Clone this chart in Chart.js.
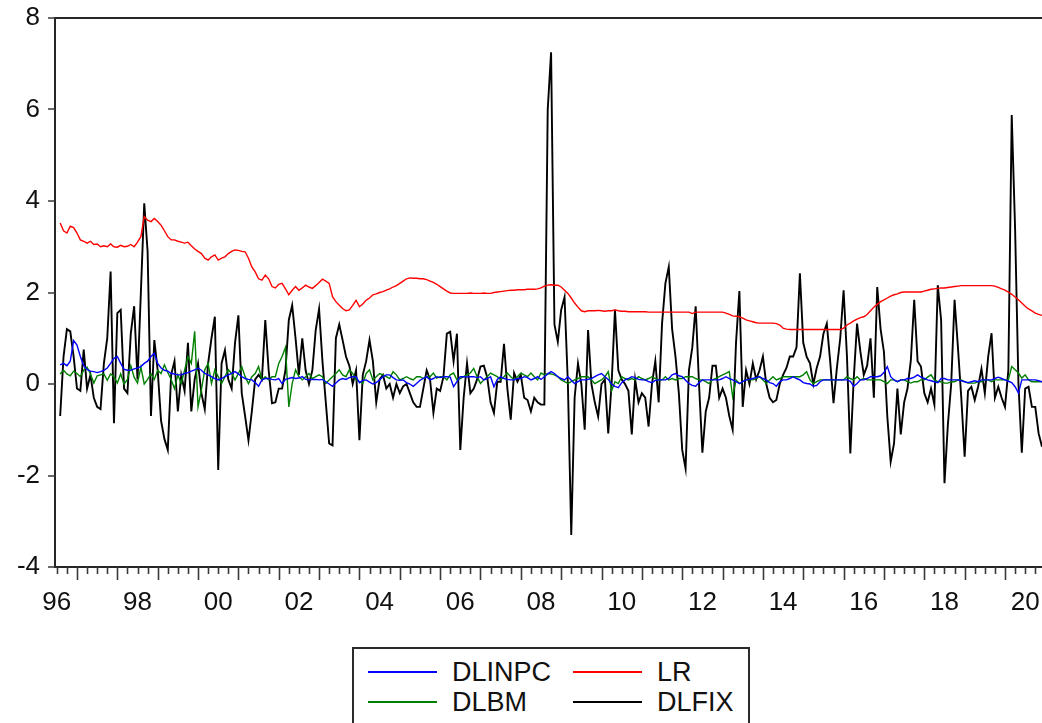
<!DOCTYPE html>
<html>
<head>
<meta charset="utf-8">
<title>DLINPC, LR, DLBM, DLFIX</title>
<script src="https://cdn.jsdelivr.net/npm/chart.js@4.4.0/dist/chart.umd.min.js"></script>
<style>
    html, body { margin: 0; padding: 0; background: #fff; overflow: hidden; }
    #wrap { position: relative; width: 1042px; height: 723px; overflow: hidden; }
    #chart { position: absolute; left: 0; top: 0; }
    #legend {
        position: absolute; left: 352px; top: 647px; width: 398px; height: 90px;
        box-sizing: border-box; border: 2px solid #2b2b2b; background: #fff;
        font-family: 'Liberation Sans', Arial, sans-serif; font-size: 27px; color: #111;
    }
    .item { position: absolute; height: 30px; line-height: 30px; width: 190px; }
    .item .swatch { position: absolute; left: 0; top: 14px; width: 69px; height: 2px; }
    .item .name { position: absolute; left: 84px; top: 0; white-space: nowrap; }
</style>
</head>
<body>
<div id="wrap">
    <canvas id="chart" width="1042" height="723"></canvas>
    <div id="legend"></div>
</div>
<script>
// monthly observations, first one is 1996M8, last one 2020M12
const firstYear = 1996;
const firstMonth = 8;

const dlinpc = [
    0.42, 0.45, 0.40, 0.50, 0.95, 0.85, 0.60, 0.40, 0.32, 0.28, 0.27, 0.25,
    0.27, 0.30, 0.35, 0.45, 0.56, 0.60, 0.45, 0.32, 0.30, 0.30, 0.33, 0.35,
    0.38, 0.45, 0.50, 0.60, 0.67, 0.45, 0.35, 0.30, 0.28, 0.23, 0.22, 0.20,
    0.20, 0.23, 0.25, 0.28, 0.31, 0.35, 0.30, 0.23, 0.20, 0.16, 0.12, 0.09,
    0.12, 0.16, 0.20, 0.23, 0.27, 0.22, 0.16, 0.12, 0.10, 0.09, 0.03, -0.05,
    0.09, 0.12, 0.12, 0.10, 0.09, 0.12, 0.01, 0.10, 0.12, 0.14, 0.12, 0.13,
    0.16, 0.10, 0.09, 0.10, 0.10, 0.09, 0.10, 0.05, 0.00, -0.05, 0.02, 0.09,
    0.12, 0.10, 0.14, 0.16, 0.16, 0.03, 0.08, 0.09, 0.04, 0.00, 0.03, 0.09,
    0.16, 0.20, 0.20, 0.14, 0.09, 0.08, 0.09, 0.03, 0.00, -0.05, 0.01, 0.08,
    0.12, 0.16, 0.09, 0.12, 0.16, 0.14, 0.16, 0.16, 0.15, -0.06, 0.05, 0.16,
    0.16, 0.15, 0.16, 0.16, 0.14, 0.16, 0.09, 0.12, 0.16, -0.06, 0.10, 0.16,
    0.12, 0.10, 0.09, 0.09, 0.12, 0.12, 0.16, 0.14, 0.09, 0.12, 0.16, 0.10,
    0.16, 0.22, 0.27, 0.23, 0.16, 0.12, 0.09, 0.16, 0.08, 0.01, 0.05, 0.09,
    0.09, 0.10, 0.12, 0.16, 0.20, 0.23, 0.16, 0.10, 0.00, -0.05, -0.08, 0.03,
    0.09, 0.12, 0.16, 0.14, 0.10, 0.09, 0.09, 0.05, 0.03, 0.08, 0.09, 0.09,
    0.09, 0.12, 0.20, 0.23, 0.18, 0.16, 0.08, 0.01, -0.03, -0.05, 0.03, 0.09,
    0.09, 0.09, 0.09, 0.09, 0.09, 0.12, 0.16, 0.12, 0.09, 0.05, 0.01, 0.05,
    0.09, 0.10, 0.12, 0.14, 0.16, 0.12, 0.09, 0.03, 0.01, -0.05, 0.05, 0.09,
    0.09, 0.12, 0.16, 0.12, 0.09, 0.03, 0.01, 0.00, -0.05, -0.03, 0.05, 0.09,
    0.09, 0.09, 0.09, 0.09, 0.09, 0.09, 0.09, 0.06, -0.05, 0.01, 0.09, 0.09,
    0.12, 0.16, 0.16, 0.16, 0.18, 0.25, 0.38, 0.16, 0.09, 0.05, 0.09, 0.09,
    0.12, 0.12, 0.15, 0.20, 0.15, 0.12, 0.09, 0.07, 0.05, 0.03, 0.12, 0.12,
    0.09, 0.09, 0.09, 0.09, 0.07, 0.05, 0.03, 0.05, 0.07, 0.05, 0.09, 0.09,
    0.09, 0.09, 0.12, 0.15, 0.12, 0.09, 0.06, 0.03, -0.06, -0.20, 0.09, 0.09,
    0.09, 0.09, 0.09, 0.07, 0.05
];

const lr = [
    3.52, 3.35, 3.30, 3.45, 3.42, 3.30, 3.15, 3.12, 3.08, 3.12, 3.05, 3.06,
    3.00, 3.02, 3.00, 3.06, 3.00, 2.99, 3.03, 3.00, 3.01, 3.05, 3.00, 3.10,
    3.22, 3.66, 3.58, 3.55, 3.62, 3.55, 3.47, 3.35, 3.22, 3.15, 3.15, 3.12,
    3.10, 3.08, 3.10, 3.02, 2.95, 2.90, 2.85, 2.75, 2.71, 2.78, 2.82, 2.71,
    2.75, 2.78, 2.85, 2.90, 2.93, 2.92, 2.90, 2.89, 2.75, 2.56, 2.45, 2.30,
    2.27, 2.38, 2.30, 2.13, 2.10, 2.18, 2.20, 2.08, 1.95, 2.05, 2.13, 2.05,
    2.10, 2.16, 2.12, 2.09, 2.15, 2.22, 2.29, 2.25, 2.20, 1.91, 1.80, 1.72,
    1.65, 1.60, 1.62, 1.72, 1.83, 1.69, 1.75, 1.83, 1.88, 1.95, 1.97, 2.00,
    2.02, 2.05, 2.08, 2.12, 2.15, 2.20, 2.25, 2.30, 2.32, 2.31, 2.31, 2.30,
    2.30, 2.28, 2.25, 2.22, 2.18, 2.13, 2.08, 2.03, 1.99, 1.98, 1.98, 1.98,
    1.98, 1.98, 1.99, 1.98, 1.98, 1.98, 1.99, 1.98, 1.98, 2.00, 2.01, 2.02,
    2.03, 2.04, 2.05, 2.05, 2.06, 2.06, 2.06, 2.07, 2.07, 2.07, 2.08, 2.10,
    2.14, 2.16, 2.17, 2.16, 2.16, 2.12, 2.05, 1.98, 1.88, 1.77, 1.68, 1.60,
    1.58, 1.60, 1.60, 1.60, 1.61, 1.60, 1.59, 1.60, 1.60, 1.62, 1.60, 1.59,
    1.59, 1.58, 1.58, 1.58, 1.58, 1.58, 1.58, 1.57, 1.57, 1.57, 1.57, 1.57,
    1.57, 1.57, 1.57, 1.57, 1.57, 1.57, 1.57, 1.57, 1.54, 1.57, 1.57, 1.57,
    1.57, 1.57, 1.57, 1.57, 1.57, 1.57, 1.55, 1.52, 1.49, 1.48, 1.47, 1.44,
    1.40, 1.38, 1.36, 1.34, 1.33, 1.33, 1.33, 1.33, 1.33, 1.32, 1.29, 1.22,
    1.20, 1.19, 1.19, 1.19, 1.19, 1.19, 1.19, 1.19, 1.19, 1.19, 1.19, 1.19,
    1.19, 1.19, 1.19, 1.19, 1.19, 1.22, 1.29, 1.33, 1.38, 1.42, 1.45, 1.47,
    1.52, 1.60, 1.68, 1.74, 1.80, 1.84, 1.88, 1.92, 1.95, 1.97, 2.00, 2.01,
    2.01, 2.01, 2.01, 2.01, 2.01, 2.03, 2.05, 2.07, 2.08, 2.09, 2.10, 2.10,
    2.11, 2.12, 2.13, 2.14, 2.15, 2.15, 2.15, 2.15, 2.15, 2.15, 2.15, 2.15,
    2.15, 2.15, 2.14, 2.11, 2.08, 2.05, 2.01, 1.96, 1.90, 1.84, 1.77, 1.70,
    1.64, 1.60, 1.55, 1.52, 1.50
];

const dlbm = [
    0.22, 0.30, 0.22, 0.18, 0.28, 0.23, 0.16, 0.30, 0.37, 0.22, 0.02, 0.18,
    0.20, 0.22, 0.08, 0.22, 0.16, 0.02, 0.22, 0.00, 0.10, 0.40, 0.15, 0.02,
    0.37, 0.00, 0.10, 0.22, 0.10, 0.30, 0.23, 0.42, 0.25, 0.10, -0.10, 0.20,
    0.01, 0.30, 0.60, 0.45, 1.15, -0.50, -0.13, 0.31, 0.45, 0.01, 0.31, 0.16,
    0.01, 0.16, 0.31, 0.23, 0.09, 0.23, 0.38, 0.16, 0.01, 0.16, 0.23, 0.38,
    0.09, 0.16, 0.09, 0.16, 0.16, 0.45, 0.60, 0.80, -0.50, 0.01, 0.31, 0.16,
    0.09, 0.16, 0.23, 0.12, 0.16, 0.20, 0.16, 0.01, 0.09, 0.16, 0.23, 0.31,
    0.20, 0.16, 0.31, 0.23, 0.09, 0.05, 0.01, 0.23, 0.31, 0.09, 0.16, 0.23,
    0.20, 0.16, 0.12, 0.27, 0.20, 0.09, 0.12, 0.16, 0.12, 0.09, 0.16, 0.16,
    0.12, 0.16, 0.16, 0.24, 0.13, 0.16, 0.16, 0.09, 0.20, 0.24, 0.09, 0.12,
    0.16, 0.20, 0.24, 0.34, 0.16, 0.01, 0.09, 0.16, 0.24, 0.20, 0.16, 0.09,
    0.16, 0.24, 0.16, 0.09, 0.16, 0.24, 0.20, 0.16, 0.24, 0.16, 0.09, 0.24,
    0.20, 0.23, 0.22, 0.20, 0.16, 0.09, 0.05, 0.01, 0.05, 0.09, 0.12, 0.16,
    0.16, 0.16, 0.09, 0.01, 0.05, 0.09, 0.16, 0.27, -0.15, 0.05, 0.01, 0.16,
    0.12, 0.09, 0.12, 0.09, 0.16, 0.12, 0.09, 0.12, 0.16, 0.12, 0.09, 0.09,
    0.16, 0.09, 0.12, 0.09, 0.12, 0.12, 0.16, 0.16, 0.16, 0.12, 0.09, 0.09,
    0.05, 0.01, 0.09, 0.12, 0.16, 0.20, 0.23, 0.27, -0.28, 0.09, 0.01, 0.05,
    0.09, 0.09, 0.09, 0.12, 0.16, 0.09, 0.01, 0.09, 0.16, 0.09, 0.12, 0.16,
    0.16, 0.16, 0.16, 0.16, 0.16, 0.20, 0.27, 0.09, 0.01, 0.05, 0.09, 0.09,
    0.09, 0.09, 0.09, 0.09, 0.09, 0.09, 0.16, 0.12, 0.09, 0.16, 0.09, 0.12,
    0.09, 0.09, 0.09, 0.09, 0.09, 0.05, 0.01, 0.09, 0.09, 0.05, 0.09, 0.09,
    0.05, 0.02, 0.05, 0.05, 0.09, 0.09, 0.15, 0.20, 0.09, 0.05, 0.05, 0.02,
    0.02, 0.05, 0.05, 0.09, 0.09, 0.05, 0.02, 0.02, 0.02, 0.05, 0.05, 0.09,
    0.09, 0.05, 0.09, 0.09, 0.09, 0.09, 0.09, 0.38, 0.31, 0.24, 0.13, 0.20,
    0.09, 0.05, 0.05, 0.05, 0.05
];

const dlfix = [
    -0.70, 0.60, 1.20, 1.15, 0.60, -0.10, -0.15, 0.75, -0.10, 0.20, -0.30, -0.50,
    -0.55, 0.45, 1.00, 2.46, -0.86, 1.55, 1.62, -0.10, -0.20, 1.10, 1.70, 0.10,
    2.00, 3.95, 2.90, -0.70, 0.96, 0.30, -0.80, -1.20, -1.44, 0.20, 0.50, -0.60,
    0.20, -0.15, 0.90, -0.60, 0.10, 0.45, -0.20, -0.55, 0.45, 1.00, 1.47, -1.88,
    0.45, 0.74, 0.10, -0.10, 0.90, 1.50, -0.20, -0.70, -1.23, -0.60, 0.10, 0.20,
    0.10, 1.40, 0.30, -0.42, -0.40, -0.10, -0.10, 0.30, 1.40, 1.72, 1.00, 0.20,
    1.00, 0.30, 0.00, 0.30, 1.18, 1.64, 0.50, -0.40, -1.30, -1.34, 1.00, 1.30,
    0.96, 0.60, 0.40, 0.00, 0.30, -1.23, 0.20, 0.50, 0.96, 0.50, -0.40, 0.10,
    0.20, -0.10, 0.00, -0.30, 0.00, -0.20, -0.05, 0.00, -0.20, -0.40, -0.50, -0.50,
    -0.10, 0.30, 0.10, -0.63, -0.10, -0.15, 0.16, 1.10, 1.14, 0.50, 1.10, -1.44,
    -0.30, 0.45, -0.20, -0.10, 0.10, 0.38, 0.40, 0.15, -0.40, -0.63, 0.05, 0.05,
    0.88, -0.10, -0.78, 0.24, 0.05, 0.20, -0.30, -0.35, -0.60, -0.30, -0.40, -0.45,
    -0.45, 6.00, 7.25, 1.30, 0.92, 1.62, 1.90, 0.00, -3.30, -0.30, 0.45, 0.00,
    -1.00, 1.18, 0.00, -0.40, -0.71, 0.00, 0.10, -1.08, 0.00, 1.62, 0.30, 0.10,
    0.00, -0.15, -1.10, 0.10, -0.40, -0.20, -0.30, -0.93, 0.00, 0.50, -0.40, 1.32,
    2.20, 2.56, 1.20, 0.60, -0.20, -1.44, -1.85, 0.30, 0.80, 1.70, 0.00, -1.50,
    -0.60, -0.30, 0.40, 0.40, -0.30, -0.10, -0.30, -0.70, -1.00, 0.90, 2.03, -0.50,
    0.30, 0.00, 0.45, 0.10, 0.30, 0.60, 0.00, -0.30, -0.40, -0.35, 0.00, 0.20,
    0.35, 0.60, 0.60, 0.80, 2.42, 0.90, 0.60, 0.45, 0.00, 0.35, 0.60, 1.10,
    1.32, 0.50, -0.42, 0.35, 1.00, 2.05, 0.60, -1.52, 0.10, 1.32, 0.70, 0.20,
    0.40, 1.00, -0.30, 2.12, 1.20, 0.70, -0.71, -1.70, -1.30, -0.10, -1.10, -0.40,
    -0.10, 0.52, 1.84, 0.50, 0.38, -0.20, -0.40, -0.10, -0.45, 2.16, 1.40, -2.17,
    -0.90, 0.00, 1.84, 0.80, -0.30, -1.59, -0.15, -0.06, -0.35, -0.06, 0.33, -0.20,
    0.60, 1.11, -0.30, -0.06, -0.30, -0.50, 0.30, 5.88, 3.40, 0.00, -1.50, -0.10,
    -0.06, -0.50, -0.50, -1.08, -1.37
];

// axis ticks
const yTicks = [-4, -2, 0, 2, 4, 6, 8];
const xLabelYears = [1996, 1998, 2000, 2002, 2004, 2006, 2008, 2010, 2012, 2014, 2016, 2018, 2020];

const series = [
    { label: 'DLINPC', values: dlinpc, color: '#0000ff' },
    { label: 'LR', values: lr, color: '#ff0000' },
    { label: 'DLBM', values: dlbm, color: '#008000' },
    { label: 'DLFIX', values: dlfix, color: '#000000' }
];

function toPoints(values) {
    return values.map((v, i) => ({ x: firstYear + (firstMonth - 1 + i) / 12, y: v }));
}

const tickFont = { family: "'Liberation Sans', Arial, sans-serif", size: 26 };

// frame and outward tick marks, EViews style
const framePlugin = {
    id: 'frame',
    afterDraw(chart) {
        const { ctx, chartArea: a, scales: { x, y } } = chart;
        ctx.save();
        ctx.strokeStyle = '#262626';
        ctx.lineWidth = 2;
        ctx.beginPath();
        ctx.moveTo(a.left, a.top); ctx.lineTo(a.right, a.top);
        ctx.moveTo(a.left, a.top - 1); ctx.lineTo(a.left, a.bottom + 1);
        ctx.moveTo(a.left - 1, a.bottom); ctx.lineTo(a.right, a.bottom);
        ctx.stroke();

        ctx.lineWidth = 1.6;
        ctx.strokeStyle = '#3a3a3a';
        ctx.beginPath();
        yTicks.forEach(v => {
            const py = Math.round(y.getPixelForValue(v));
            ctx.moveTo(a.left - 7, py); ctx.lineTo(a.left, py);
        });
        for (let q = Math.ceil(x.min * 4); q <= Math.floor(x.max * 4); q++) {
            const px = Math.round(x.getPixelForValue(q / 4)) + 0.5;
            const len = q % 4 === 0 ? 13 : 7;
            ctx.moveTo(px, a.bottom); ctx.lineTo(px, a.bottom + len);
        }
        ctx.stroke();
        ctx.restore();
    }
};

document.addEventListener('DOMContentLoaded', function() {
    const ctx = document.getElementById('chart').getContext('2d');

    // draw black first so the small series stay visible on top
    const drawOrder = { DLINPC: 1, DLBM: 2, LR: 3, DLFIX: 4 };

    const chart = new Chart(ctx, {
        type: 'line',
        data: {
            datasets: series.map(s => ({
                label: s.label,
                data: toPoints(s.values),
                borderColor: s.color,
                backgroundColor: s.color,
                borderWidth: s.label === 'DLFIX' ? 1.9 : 1.4,
                order: drawOrder[s.label]
            }))
        },
        options: {
            responsive: false,
            animation: false,
            elements: {
                point: { radius: 0 },
                line: { tension: 0, fill: false }
            },
            layout: { padding: { top: 18, right: 0, bottom: 0, left: 0 } },
            plugins: {
                legend: { display: false },
                tooltip: { enabled: false }
            },
            scales: {
                x: {
                    type: 'linear',
                    bounds: 'data',
                    min: 1996.455,
                    max: 2020.917,
                    // tick marks are drawn by the plugin, tickLength only spaces the labels
                    grid: { display: false, drawTicks: true, tickLength: 20 },
                    border: { display: false },
                    afterBuildTicks: function(scale) {
                        scale.ticks = xLabelYears.map(yr => ({ value: yr + 0.5 }));
                    },
                    afterFit: function(scale) { scale.height = 156; },
                    ticks: {
                        autoSkip: false,
                        maxRotation: 0,
                        padding: 0,
                        color: '#111',
                        font: tickFont,
                        callback: v => String(Math.floor(v) % 100).padStart(2, '0')
                    }
                },
                y: {
                    min: -4,
                    max: 8,
                    grid: { display: false, drawTicks: true, tickLength: 15 },
                    border: { display: false },
                    afterBuildTicks: function(scale) {
                        scale.ticks = yTicks.map(v => ({ value: v }));
                    },
                    afterFit: function(scale) { scale.width = 55; },
                    ticks: {
                        padding: 0,
                        color: '#111',
                        font: tickFont
                    }
                }
            }
        },
        plugins: [framePlugin]
    });

    // legend: two columns, two rows
    const legend = document.getElementById('legend');
    const legendOrder = ['DLINPC', 'LR', 'DLBM', 'DLFIX'];
    legendOrder.forEach((name, k) => {
        const ds = chart.data.datasets.find(d => d.label === name);
        const item = document.createElement('div');
        item.className = 'item';
        item.style.left = (k % 2 === 0 ? 14 : 219) + 'px';
        item.style.top = (k < 2 ? 8 : 38) + 'px';
        item.innerHTML = '<span class="swatch" style="background:' + ds.borderColor + '"></span>' +
            '<span class="name">' + ds.label + '</span>';
        legend.appendChild(item);
    });
});
</script>
</body>
</html>
